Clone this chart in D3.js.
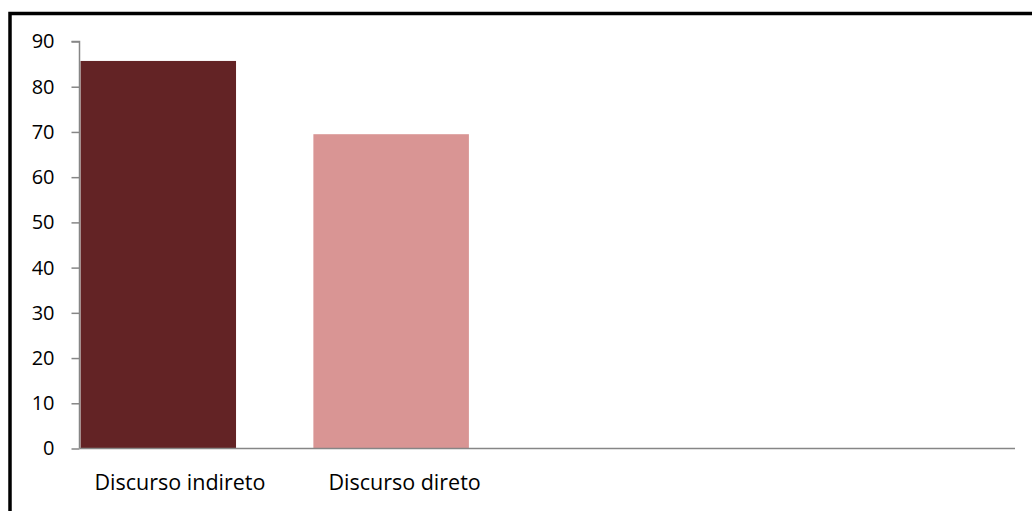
<!DOCTYPE html>
<html><head><meta charset="utf-8">
<script src="https://cdn.jsdelivr.net/npm/d3@7"></script>
<style>body{margin:0;background:#fff}svg{display:block}text{font-family:"Open Sans",sans-serif}</style>
</head><body><svg id="c" width="1032" height="511"></svg>
<script>
const categories = ["Discurso indireto", "Discurso direto", "", ""];
const values = [85.7, 69.5, null, null];
const colors = ["#632325", "#d99594"];
const yTicks = [0,10,20,30,40,50,60,70,80,90];

const svg = d3.select("#c");
// outer border
svg.append("rect").attr("x",10).attr("y",13.5).attr("width",1030).attr("height",520)
  .attr("fill","none").attr("stroke","#000").attr("stroke-width",3.5);

const x0 = 79.5, x1 = 1015, yb = 448.5, yt = 41.5;
const x = d3.scaleBand().domain(d3.range(categories.length)).range([x0, x1]).paddingInner(0).paddingOuter(0);
const y = d3.scaleLinear().domain([0, 90]).range([yb, yt]);
const barW = x.bandwidth() * 0.665;

svg.append("g").selectAll("rect").data(values.map((v,i)=>({v,i})).filter(d=>d.v!=null))
  .enter().append("rect")
  .attr("x", d => x(d.i) + (d.i===0 ? 1 : 0))
  .attr("y", d => y(d.v))
  .attr("width", barW)
  .attr("height", d => y(0) - y(d.v))
  .attr("fill", d => colors[d.i]);

const yAxis = d3.axisLeft(y).tickValues(yTicks).tickSize(8).tickPadding(17);
const gy = svg.append("g").attr("transform", `translate(${x0},0)`).call(yAxis);
gy.select(".domain").attr("stroke","#868686").attr("stroke-width",1.5).attr("d", `M-8,${y(90)}H0V${y(0)}`);
gy.selectAll(".tick line").attr("stroke","#868686").attr("stroke-width",1.5);
gy.selectAll(".tick text").attr("fill","#000").style("font-size","20px").style("font-family","Open Sans");

// x axis baseline
svg.append("line").attr("x1", x0).attr("x2", x1).attr("y1", y(0)).attr("y2", y(0))
  .attr("stroke","#868686").attr("stroke-width",1.5);

svg.append("g").selectAll("text").data(categories.map((c,i)=>({c,i})).filter(d=>d.c))
  .enter().append("text")
  .attr("x", d => x(d.i) + 15)
  .attr("y", 490)
  .attr("text-anchor","start")
  .style("font-size","21.5px")
  .attr("fill","#000")
  .text(d => d.c);
</script></body></html>
